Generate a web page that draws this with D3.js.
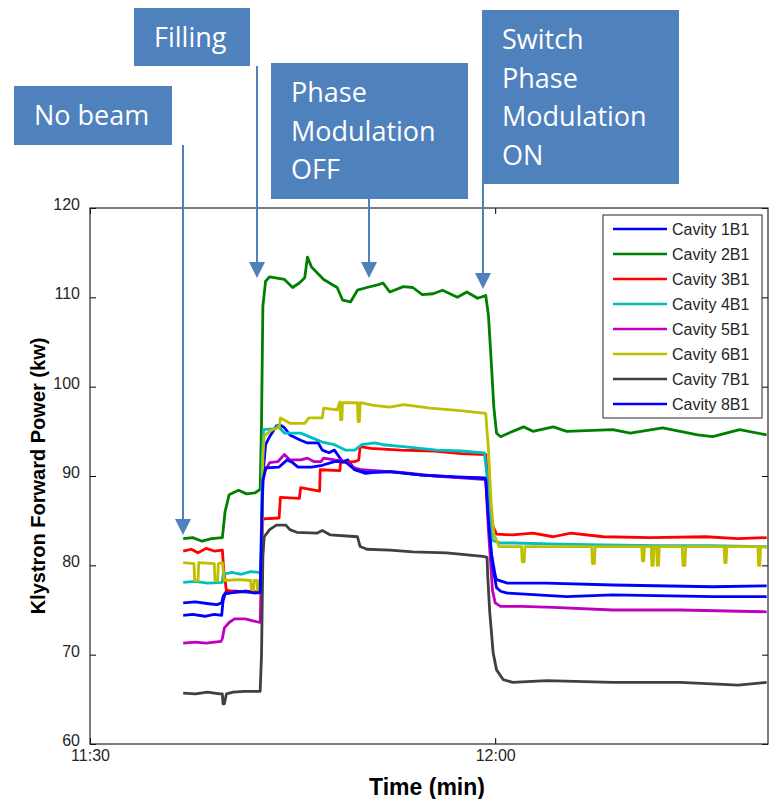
<!DOCTYPE html>
<html>
<head>
<meta charset="utf-8">
<script src="https://cdn.jsdelivr.net/npm/d3@7"></script>
<style>
  body { margin: 0; background: #fff; }
  svg { display: block; }
</style>
</head>
<body>
<svg id="mainsvg" width="772" height="799"></svg>
<script>
// minutes after 11:30, power in kW
const cav1 = [[6.9,75.8],[7.8,75.9],[8.8,75.7],[9.4,75.6],[9.75,75.8],[9.85,76.5],[10.1,77.1],[10.8,77.1],[11.6,77.0],[12.2,77.0],[12.6,76.9],[12.7,82],[12.8,90],[13.0,93.5],[13.3,94.4],[13.8,95.6],[14.1,95.7],[14.4,95.4],[14.8,94.6],[15.6,94.0],[16.1,93.7],[16.9,93.7],[17.2,92.9],[17.7,92.6],[18.1,92.9],[18.7,91.6],[19.1,91.8],[19.6,90.7],[20.4,90.3],[21.1,90.4],[22.2,90.5],[24.6,90.1],[27.0,89.9],[29.3,89.8],[29.5,86],[29.7,81.5],[30.0,78.9],[30.1,78.4],[30.9,78.0],[33.8,78.0],[38.7,77.8],[46.1,77.6],[50.1,77.7]];
const cav2 = [[6.9,83.0],[7.6,83.1],[8.3,82.7],[9.0,83.0],[9.8,83.1],[10.0,86.0],[10.3,87.9],[11.0,88.4],[11.6,88.0],[12.2,88.1],[12.6,88.5],[12.7,96],[12.8,109],[13.0,111.8],[13.3,112.3],[14.4,112.0],[15.0,111.1],[15.5,111.6],[15.9,112.2],[16.1,114.5],[16.4,113.4],[17.3,112.0],[18.3,111.1],[18.7,109.7],[19.3,109.5],[19.8,110.8],[20.5,111.1],[21.3,111.4],[21.7,111.6],[22.2,110.6],[23.2,111.2],[23.9,111.1],[24.6,110.3],[25.4,110.4],[26.1,110.8],[27.2,110.0],[27.9,110.6],[28.7,109.9],[29.3,110.2],[29.5,108],[29.7,103],[29.9,97.7],[30.1,94.8],[30.4,94.4],[31.3,95.0],[32.1,95.5],[32.8,95.0],[34.3,95.5],[35.3,95.0],[38.7,95.2],[40.0,94.8],[42.4,95.4],[45.0,94.6],[46.1,94.4],[48.1,95.2],[50.1,94.6]];
const cav3 = [[6.9,81.6],[7.5,81.8],[8.0,81.4],[8.6,81.9],[9.2,81.6],[9.8,81.7],[9.9,79.5],[10.1,77.2],[10.8,77.0],[11.6,77.1],[12.6,77.0],[12.7,81],[12.8,85.2],[14.0,85.3],[14.1,87.6],[15.5,87.5],[15.6,88.7],[17.0,88.3],[17.05,90.7],[18.5,90.6],[18.55,91.5],[19.6,91.6],[19.9,91.8],[20.0,93.3],[20.8,93.1],[23.0,92.9],[25.5,92.8],[27.5,92.5],[29.3,92.4],[29.5,88.5],[29.8,84.5],[30.1,83.5],[31.3,83.4],[32.8,83.6],[34.3,83.2],[35.6,83.6],[38.0,83.2],[41.5,83.1],[45.6,83.2],[48.0,83.0],[50.1,83.1]];
const cav4 = [[6.9,78.1],[7.8,78.2],[8.7,78.0],[9.8,78.1],[9.85,79.0],[10.5,79.2],[11.2,79.0],[11.9,79.3],[12.5,79.2],[12.65,79.3],[12.75,92],[12.85,95.2],[13.7,95.3],[13.9,95.6],[14.4,94.8],[15.6,94.8],[16.4,94.3],[17.2,93.8],[18.1,93.5],[18.9,92.9],[19.6,92.9],[20.1,93.5],[21.1,93.7],[21.7,93.5],[23.2,93.3],[25.7,92.9],[27.5,92.8],[29.2,92.6],[29.4,90],[29.6,85.5],[29.8,82.8],[30.4,82.5],[31.3,82.5],[34,82.4],[38,82.3],[42,82.2],[46,82.2],[50.1,82.1]];
const cav5 = [[6.9,71.3],[7.8,71.4],[8.6,71.3],[9.7,71.5],[9.8,71.8],[9.95,73.0],[10.3,73.6],[10.7,74.0],[11.5,74.0],[12.0,73.8],[12.6,73.6],[12.7,80],[12.8,89.5],[13.0,90.7],[13.3,91.5],[13.9,91.6],[14.4,92.4],[14.8,91.8],[15.6,91.8],[16.1,92.0],[16.6,91.6],[17.1,91.6],[17.3,92.0],[18.1,91.8],[18.7,91.7],[18.9,91.6],[19.6,90.9],[20.1,90.7],[21.1,90.6],[23,90.4],[25.5,90.0],[27.5,89.8],[29.3,89.6],[29.5,84],[29.8,77.2],[30.0,75.8],[30.4,75.4],[32,75.4],[34.3,75.3],[38.7,75.0],[43.7,75.0],[50.1,74.8]];
const cav6 = [[6.9,80.3],[7.7,80.2],[7.75,78.3],[8.0,78.3],[8.05,80.3],[9.2,80.2],[9.25,78.3],[9.45,78.3],[9.5,80.2],[9.8,80.3],[9.95,78.3],[11.0,78.4],[11.9,78.3],[11.95,77.2],[12.1,77.2],[12.15,78.3],[12.35,78.3],[12.4,77.2],[12.5,77.2],[12.55,78.3],[12.7,78.3],[12.8,92],[12.9,94.5],[13.5,95.2],[14.0,95.4],[14.1,96.5],[14.8,95.9],[15.9,95.9],[16.2,96.5],[17.2,96.5],[17.3,97.6],[18.3,97.4],[18.5,98.3],[18.55,96.3],[18.65,96.3],[18.7,98.2],[19.8,98.2],[19.85,96.1],[19.95,96.1],[20.0,98.2],[21.0,97.9],[22.2,97.7],[23.2,98.0],[25.2,97.6],[27.6,97.3],[29.3,97.0],[29.5,93],[29.7,87],[29.9,83.5],[30.3,82.1],[31.95,82.1],[32.0,80.4],[32.15,80.4],[32.2,82.1],[37.15,82.1],[37.2,80.2],[37.35,80.2],[37.4,82.1],[40.85,82.1],[40.9,80.5],[41.0,80.5],[41.05,82.1],[41.55,82.1],[41.6,80.0],[41.7,80.0],[41.75,82.1],[41.95,82.1],[42.0,80.0],[42.1,80.0],[42.15,82.1],[43.85,82.1],[43.9,80.0],[44.05,80.0],[44.1,82.1],[46.95,82.1],[47.0,80.3],[47.1,80.3],[47.15,82.1],[49.45,82.1],[49.5,80.0],[49.6,80.0],[49.65,82.1],[50.1,82.0]];
const cav7 = [[6.9,65.7],[7.8,65.6],[8.7,65.8],[9.6,65.6],[9.8,65.6],[9.85,64.5],[9.95,64.5],[10.1,65.6],[10.6,65.8],[11.4,65.9],[12.1,65.9],[12.6,65.9],[12.7,70],[12.8,81],[12.9,83.2],[13.3,84.0],[13.8,84.5],[14.5,84.5],[14.8,84.0],[15.3,83.7],[16.8,83.6],[17.2,83.9],[17.8,83.4],[19.8,83.2],[20.0,82.1],[20.5,81.8],[22.2,81.7],[23.9,81.5],[26.4,81.4],[29.1,81.0],[29.4,80.9],[29.45,78.7],[29.6,74.7],[29.85,70.2],[30.1,68.3],[30.6,67.2],[31.3,66.9],[33.8,67.1],[38.7,66.9],[43.7,66.9],[48.0,66.6],[50.1,66.9]];
const cav8 = [[6.9,74.4],[7.6,74.5],[8.5,74.3],[9.2,74.5],[9.75,74.4],[9.85,76.0],[10.0,76.8],[10.8,77.0],[11.5,77.1],[12.2,76.9],[12.6,77.0],[12.7,84],[12.8,89.5],[13.0,90.9],[14.0,91.0],[14.6,91.8],[15.0,91.5],[15.4,91.0],[16.4,91.0],[17.2,91.2],[18.1,91.6],[18.9,91.6],[19.6,90.7],[20.4,90.4],[22.2,90.5],[24.6,90.1],[27.0,89.9],[29.3,89.7],[29.5,85],[29.8,80],[30.1,77.5],[30.4,77.1],[30.9,76.9],[35.3,76.5],[38.7,76.7],[46.1,76.5],[50.1,76.5]];

const cavityNames = ["Cavity 1B1", "Cavity 2B1", "Cavity 3B1", "Cavity 4B1", "Cavity 5B1", "Cavity 6B1", "Cavity 7B1", "Cavity 8B1"];
const cavityColors = ["#0000ff", "#008000", "#ff0000", "#00bfbf", "#bf00bf", "#bfbf00", "#404040", "#0000ff"];
const series = [cav1, cav2, cav3, cav4, cav5, cav6, cav7, cav8];

const xTickValues = [0, 30];
const xTickLabels = ["11:30", "12:00"];
const yTickValues = [60, 70, 80, 90, 100, 110, 120];

const notes = [
  {lines: ["No beam"], box: [14, 86, 158, 59], arrowX: 183, tip: 535},
  {lines: ["Filling"], box: [134, 8, 116, 58], arrowX: 257, tip: 278},
  {lines: ["Phase", "Modulation", "OFF"], box: [271, 63, 197, 136], arrowX: 369, tip: 278},
  {lines: ["Switch", "Phase", "Modulation", "ON"], box: [482, 10, 197, 174], arrowX: 483, tip: 289}
];

const svg = d3.select("#mainsvg");
const pLeft = 90, pRight = 768, pTop = 208, pBottom = 744;

const x = d3.scaleLinear().domain([0, 50.2]).range([pLeft, pRight]);
const y = d3.scaleLinear().domain([60, 120]).range([pBottom, pTop]);

const plot = svg.append("g");
plot.append("clipPath").attr("id", "clip")
  .append("rect").attr("x", pLeft).attr("y", pTop).attr("width", pRight - pLeft).attr("height", pBottom - pTop);

const line = d3.line().x(d => x(d[0])).y(d => y(d[1]));
series.forEach((s, i) => {
  plot.append("path")
    .datum(s)
    .attr("d", line)
    .attr("clip-path", "url(#clip)")
    .attr("fill", "none")
    .attr("stroke", cavityColors[i])
    .attr("stroke-width", 2.8)
    .attr("stroke-linejoin", "round");
});

// axes, ticks inside like matlab
const tickFont = (g) => g.selectAll("text")
  .style("font-family", "Liberation Sans, Arial, sans-serif")
  .style("font-size", "16px")
  .attr("fill", "#262626");

svg.append("g").attr("transform", `translate(${pLeft},0)`)
  .call(d3.axisLeft(y).tickValues(yTickValues).tickSizeInner(-6).tickSizeOuter(0).tickPadding(10))
  .call(tickFont)
  .call(g => g.selectAll("text").attr("dy", "0.1em"))
  .call(g => g.select(".domain").remove());
svg.append("g").attr("transform", `translate(${pRight},0)`)
  .call(d3.axisRight(y).tickValues(yTickValues).tickSizeInner(-6).tickSizeOuter(0).tickFormat(""))
  .call(g => g.select(".domain").remove());
svg.append("g").attr("transform", `translate(0,${pBottom})`)
  .call(d3.axisBottom(x).tickValues(xTickValues).tickSizeInner(-6).tickSizeOuter(0).tickPadding(6)
    .tickFormat((d, i) => xTickLabels[i]))
  .call(tickFont)
  .call(g => g.select(".domain").remove());
svg.append("g").attr("transform", `translate(0,${pTop})`)
  .call(d3.axisTop(x).tickValues(xTickValues).tickSizeInner(-6).tickSizeOuter(0).tickFormat(""))
  .call(g => g.select(".domain").remove());

svg.append("rect")
  .attr("x", pLeft).attr("y", pTop).attr("width", pRight - pLeft).attr("height", pBottom - pTop)
  .attr("fill", "none").attr("stroke", "#262626").attr("stroke-width", 1.2);

svg.append("text")
  .attr("x", 427).attr("y", 795)
  .attr("text-anchor", "middle")
  .style("font-family", "Liberation Sans, Arial, sans-serif")
  .style("font-size", "23px").style("font-weight", "bold")
  .text("Time (min)");

svg.append("text")
  .attr("transform", "translate(45,476) rotate(-90)")
  .attr("text-anchor", "middle")
  .style("font-family", "Liberation Sans, Arial, sans-serif")
  .style("font-size", "20px").style("font-weight", "bold")
  .text("Klystron Forward Power (kw)");

// legend
const lg = svg.append("g");
lg.append("rect").attr("x", 603).attr("y", 215).attr("width", 159).attr("height", 203)
  .attr("fill", "#fff").attr("stroke", "#262626").attr("stroke-width", 1);
cavityNames.forEach((name, i) => {
  const ry = 229 + i * 25;
  lg.append("line").attr("x1", 613).attr("x2", 667).attr("y1", ry).attr("y2", ry)
    .attr("stroke", cavityColors[i]).attr("stroke-width", 2.6);
  lg.append("text").attr("x", 672).attr("y", ry + 6)
    .style("font-family", "Liberation Sans, Arial, sans-serif")
    .style("font-size", "16px").attr("fill", "#262626")
    .text(name);
});

// annotation boxes with arrows
const noteColor = "#4f81bd";
const ng = svg.append("g");
notes.forEach(n => {
  const [bx, by, bw, bh] = n.box;
  ng.append("line").attr("x1", n.arrowX).attr("x2", n.arrowX)
    .attr("y1", by + bh).attr("y2", n.tip - 14)
    .attr("stroke", noteColor).attr("stroke-width", 2);
  ng.append("path")
    .attr("d", `M${n.arrowX - 8},${n.tip - 16} L${n.arrowX + 8},${n.tip - 16} L${n.arrowX},${n.tip} Z`)
    .attr("fill", noteColor);
  ng.append("rect").attr("x", bx).attr("y", by).attr("width", bw).attr("height", bh)
    .attr("fill", noteColor);
  const t = ng.append("text")
    .style("font-family", "Open Sans, sans-serif")
    .style("font-size", "27px").attr("fill", "#fff");
  n.lines.forEach((s, j) => {
    t.append("tspan").attr("x", bx + 20).attr("y", by + 39 + j * 38.5).text(s);
  });
});
</script>
</body>
</html>
